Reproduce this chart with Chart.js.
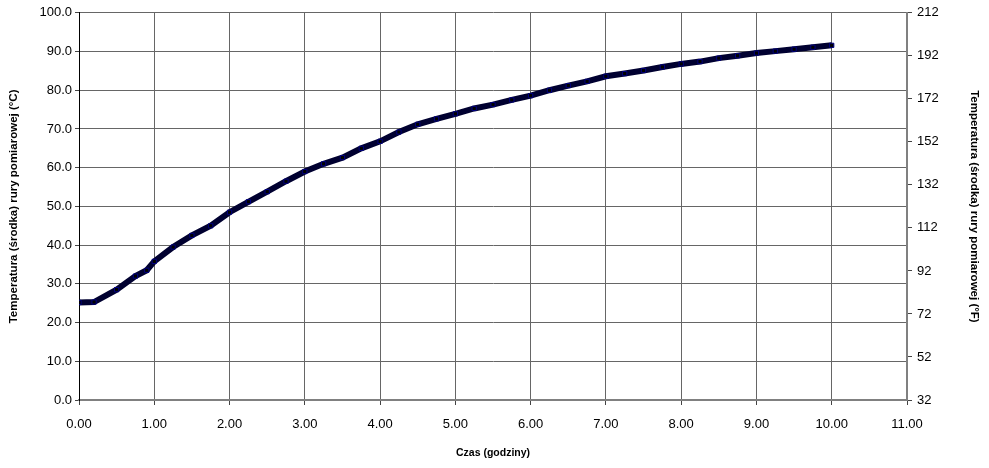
<!DOCTYPE html>
<html>
<head>
<meta charset="utf-8">
<title>Temperatura rury pomiarowej</title>
<script src="https://cdn.jsdelivr.net/npm/chart.js@4/dist/chart.umd.min.js"></script>
<style>
    html, body { margin: 0; padding: 0; background: #ffffff; }
    #wrap { width: 989px; height: 468px; position: relative; }
</style>
</head>
<body>
<div id="wrap"><canvas id="tempChart"></canvas></div>
<script>
// Czas (godziny)
const hours = [0, 0.2, 0.5, 0.75, 0.9, 1.0, 1.25, 1.5, 1.75, 2.0, 2.25, 2.5, 2.75,
    3.0, 3.25, 3.5, 3.75, 4.0, 4.25, 4.5, 4.75, 5.0, 5.25, 5.5, 5.75, 6.0, 6.25,
    6.5, 6.75, 7.0, 7.25, 7.5, 7.75, 8.0, 8.25, 8.5, 8.75, 9.0, 9.25, 9.5, 9.75, 10.0];

// Temperatura srodka rury (°C)
const tempC = [25.2, 25.3, 28.5, 32.0, 33.5, 35.8, 39.5, 42.5, 45.0, 48.5, 51.2, 53.8, 56.5,
    59.0, 61.0, 62.6, 65.0, 66.8, 69.2, 71.2, 72.6, 73.9, 75.3, 76.3, 77.5, 78.6, 80.0,
    81.2, 82.3, 83.6, 84.3, 85.1, 86.0, 86.8, 87.4, 88.3, 88.9, 89.6, 90.1, 90.6, 91.1, 91.6];

// Axis ranges
const xRange = { min: 0, max: 11, step: 1 };
const cRange = { min: 0, max: 100, step: 10 };
const fRange = { min: 32, max: 212, step: 20 };

const tickFont = { family: "'Liberation Sans', Arial, sans-serif", size: 13 };
const titleFont = { family: "'Liberation Sans', Arial, sans-serif", size: 10.5, weight: 'bold' };
const sideTitleFont = { family: "'Liberation Sans', Arial, sans-serif", size: 11.5, weight: 'bold' };
const gridColor = '#666666';

const points = hours.map((h, i) => ({ x: h, y: tempC[i] }));

const ctx = document.getElementById('tempChart');

new Chart(ctx, {
    type: 'line',
    data: {
        datasets: [{
            label: 'Temperatura',
            data: points,
            xAxisID: 'x',
            yAxisID: 'y',
            borderColor: '#000030',
            borderWidth: 6,
            pointStyle: 'rect',
            pointRadius: 3,
            pointBackgroundColor: '#000000',
            pointBorderColor: '#000080',
            pointBorderWidth: 1,
            tension: 0
        }]
    },
    options: {
        responsive: true,
        maintainAspectRatio: false,
        animation: false,
        layout: { padding: { top: 10, left: 0, right: 0, bottom: 0 } },
        plugins: {
            legend: { display: false },
            tooltip: { enabled: false }
        },
        scales: {
            x: {
                type: 'linear',
                position: 'bottom',
                min: xRange.min,
                max: xRange.max,
                afterFit: function(scale) { scale.height = 68; },
                grid: {
                    color: gridColor,
                    tickColor: '#444444',
                    tickLength: 5
                },
                border: { color: '#808080', width: 2 },
                ticks: {
                    stepSize: xRange.step,
                    color: '#000000',
                    font: tickFont,
                    padding: 12,
                    maxRotation: 0,
                    callback: function(value) { return value.toFixed(2); }
                },
                title: {
                    display: true,
                    text: 'Czas (godziny)',
                    color: '#000000',
                    font: titleFont,
                    padding: { top: 0, bottom: 9 }
                }
            },
            y: {
                type: 'linear',
                position: 'left',
                min: cRange.min,
                max: cRange.max,
                afterFit: function(scale) { scale.width = 79; },
                grid: {
                    color: gridColor,
                    tickColor: '#444444',
                    tickLength: 4
                },
                border: { color: '#000000', width: 1 },
                ticks: {
                    stepSize: cRange.step,
                    color: '#000000',
                    font: tickFont,
                    padding: 3,
                    callback: function(value) { return value.toFixed(1); }
                },
                title: {
                    display: true,
                    text: 'Temperatura (środka) rury pomiarowej (°C)',
                    color: '#000000',
                    font: sideTitleFont,
                    padding: { top: 7, bottom: 0 }
                }
            },
            y2: {
                type: 'linear',
                position: 'right',
                min: fRange.min,
                max: fRange.max,
                afterFit: function(scale) { scale.width = 82; },
                grid: {
                    drawOnChartArea: false,
                    tickColor: '#444444',
                    tickLength: 5
                },
                border: { color: '#808080', width: 2 },
                ticks: {
                    stepSize: fRange.step,
                    color: '#000000',
                    font: tickFont,
                    padding: 5,
                    callback: function(value) { return String(value); }
                },
                title: {
                    display: true,
                    text: 'Temperatura (środka) rury pomiarowej (°F)',
                    color: '#000000',
                    font: sideTitleFont,
                    padding: { top: 8, bottom: 0 }
                }
            }
        }
    }
});
</script>
</body>
</html>
